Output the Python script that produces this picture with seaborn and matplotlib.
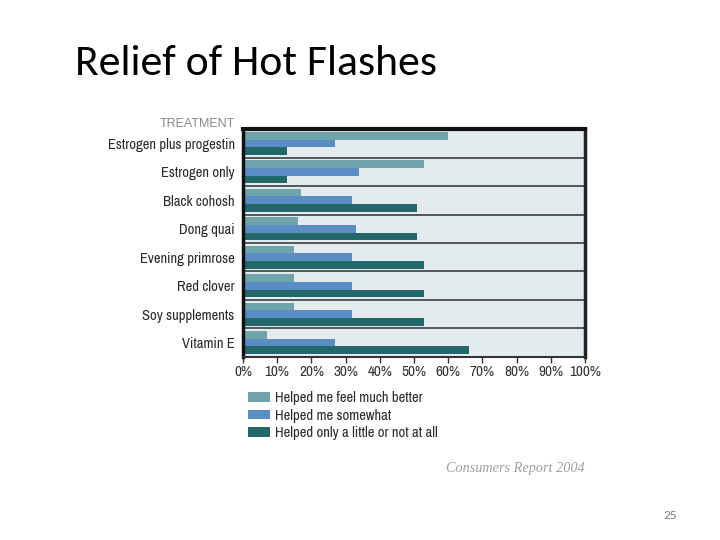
import pandas as pd
import matplotlib.pyplot as plt
import seaborn as sns
from matplotlib.ticker import PercentFormatter

treatments = ["Estrogen plus progestin", "Estrogen only", "Black cohosh", "Dong quai",
              "Evening primrose", "Red clover", "Soy supplements", "Vitamin E"]
responses = ["Helped me feel much better", "Helped me somewhat",
             "Helped only a little or not at all"]
much_better = [60, 53, 17, 16, 15, 15, 15, 7]
somewhat = [27, 34, 32, 33, 32, 32, 32, 27]
little_or_none = [13, 13, 51, 51, 53, 53, 53, 66]
colors = ["#6fa5aa", "#5a8dc4", "#22686a"]

df = pd.DataFrame({"Treatment": treatments, responses[0]: much_better,
                   responses[1]: somewhat, responses[2]: little_or_none})
df = df.melt(id_vars="Treatment", var_name="Response", value_name="Percent")

sns.set_theme(style="white")
narrow = ["Archivo Narrow", "Liberation Sans", "DejaVu Sans"]
plt.rcParams["font.family"] = narrow

fig = plt.figure(figsize=(7.2, 5.4), dpi=100)
ax = fig.add_axes([0.3375, 0.339, 0.475, 0.422])
ax.set_facecolor("#e3ebef")

sns.barplot(data=df, y="Treatment", x="Percent", hue="Response", order=treatments,
            hue_order=responses, palette=colors, saturation=1, width=0.8,
            orient="h", linewidth=0, ax=ax, legend=True)

ax.set_xlim(0, 100)
ax.set_ylim(7.5, -0.5)
ax.set_xticks(range(0, 101, 10))
ax.xaxis.set_major_formatter(PercentFormatter(decimals=0))
ax.set_xlabel("")
ax.set_ylabel("")
for y in range(7):
    ax.axhline(y + 0.5, color="#3a3f42", lw=1.2)

ax.tick_params(axis="x", bottom=True, length=4, width=1, color="#333333",
               labelsize=11, labelcolor="#333333", pad=1.5)
ax.tick_params(axis="y", left=False, labelsize=10.5, labelcolor="#2a2a2a", pad=0)

for side, lw, col in [("top", 3, "#111111"), ("left", 2.5, "#111111"),
                      ("right", 2.5, "#222222"), ("bottom", 1.5, "#333333")]:
    ax.spines[side].set_visible(True)
    ax.spines[side].set_linewidth(lw)
    ax.spines[side].set_color(col)

fig.text(0.3264, 0.770, "TREATMENT", ha="right", va="center", fontsize=9,
         color="#8a8a8a", family=["Liberation Sans", "DejaVu Sans"])

handles, labels = ax.get_legend_handles_labels()
ax.get_legend().remove()
fig.legend(handles, labels, loc="upper left", bbox_to_anchor=(0.344, 0.276),
           frameon=False, fontsize=10.5, handlelength=1.55, handleheight=0.65,
           handletextpad=0.35, labelspacing=0.25, borderaxespad=0, borderpad=0,
           labelcolor="#2a2a2a")

fig.text(0.104, 0.882, "Relief of Hot Flashes", fontsize=31.5, color="black",
         family=["Carlito", "Open Sans", "DejaVu Sans"], va="center")
fig.text(0.812, 0.133, "Consumers Report 2004", ha="right", va="center",
         fontsize=10.3, style="italic", color="#a0a0a0",
         family=["Liberation Serif", "DejaVu Serif"])
fig.text(0.940, 0.046, "25", ha="right", va="center", fontsize=9.5, color="#7a7a7a",
         family=["Carlito", "Open Sans", "DejaVu Sans"])

fig.savefig("out.png", dpi=100)
